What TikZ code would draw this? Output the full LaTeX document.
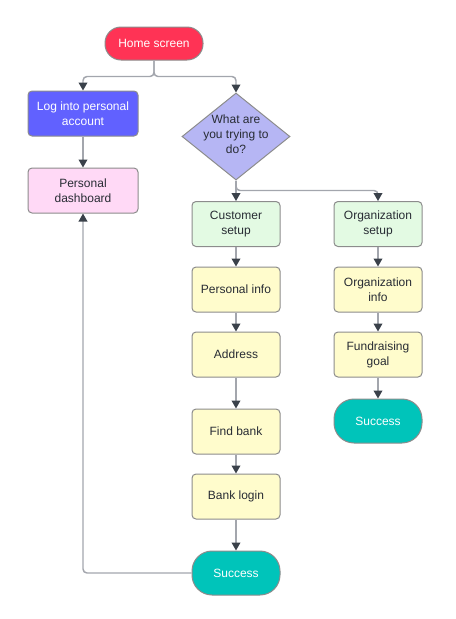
\documentclass[tikz,border=0pt]{standalone}
\usepackage{fontspec}
\setmainfont{Liberation Sans}
\usetikzlibrary{arrows.meta,shapes.geometric}
\definecolor{homec}{HTML}{FF3355}
\definecolor{loginc}{HTML}{6161FF}
\definecolor{dashc}{HTML}{FFD9F6}
\definecolor{decidec}{HTML}{B6B6F4}
\definecolor{setupc}{HTML}{E3FAE3}
\definecolor{stepc}{HTML}{FFFCCC}
\definecolor{succc}{HTML}{00C4BA}
\definecolor{edgec}{HTML}{8C8C8C}
\definecolor{linec}{HTML}{A3A6AD}
\definecolor{tipc}{HTML}{3A414A}
\definecolor{txtc}{HTML}{282C34}
\tikzset{
  box/.style={draw=edgec,line width=0.75pt,rounded corners=3pt,align=center,
    minimum width=66pt,minimum height=33.75pt,inner sep=2pt,text=txtc,
    font=\fontsize{9}{11.25}\selectfont},
  stepbox/.style={box,fill=stepc},
  setupbox/.style={box,fill=setupc},
  term/.style={box,rounded corners=12pt,minimum height=24.75pt,
    minimum width=73.5pt,fill=homec,text=white},
  succ/.style={box,rounded corners=15pt,minimum height=33pt,fill=succc,text=white},
  conn/.style={draw=linec,line width=1.1pt,rounded corners=3pt,
    -{Triangle[length=6pt,width=6.5pt,color=tipc]}}
}
\begin{document}
\begin{tikzpicture}[x=0.75pt,y=-0.75pt]
  \useasboundingbox (0,0) rectangle (455,619);
  % left column
  \node[term] (home) at (154,43.5) {Home screen};
  \node[box,fill=loginc,text=white,minimum width=82.5pt] (login) at (83,113.5)
    {Log into personal\\account};
  \node[box,fill=dashc,minimum width=82.5pt] (dash) at (83,190.5)
    {Personal\\dashboard};
  % decision
  \node[diamond,draw=edgec,line width=0.75pt,fill=decidec,inner sep=0pt,
    minimum width=81pt,minimum height=65.25pt] (decide) at (236,136.5) {};
  \node[align=center,text=txtc,font=\fontsize{9}{11.25}\selectfont]
    (decidetxt) at (236,134) {What are\\you trying to\\do?};
  % customer branch
  \node[setupbox] (csetup) at (236,224) {Customer\\setup};
  \node[stepbox] (pinfo) at (236,289.5) {Personal info};
  \node[stepbox] (addr) at (236,354.5) {Address};
  \node[stepbox] (fbank) at (236,431.5) {Find bank};
  \node[stepbox] (blogin) at (236,496.5) {Bank login};
  \node[succ] (succL) at (236,573) {Success};
  % organization branch
  \node[setupbox] (osetup) at (378,224) {Organization\\setup};
  \node[stepbox] (oinfo) at (378,289.5) {Organization\\info};
  \node[stepbox] (fgoal) at (378,354.5) {Fundraising\\goal};
  \node[succ] (succR) at (378,421) {Success};

  \draw[conn] (home.south) -- ++(0,16) -| (login.north);
  \draw[conn] (home.south) -- ++(0,16) -| (decide.north);
  \draw[conn] (login) -- (dash);
  \draw[conn] (decide.south) -- (csetup.north);
  \draw[conn] (decide.south) -- ++(0,10) -| (osetup.north);
  \foreach \a/\b in {csetup/pinfo,pinfo/addr,addr/fbank,fbank/blogin,
    blogin/succL,osetup/oinfo,oinfo/fgoal,fgoal/succR}
    \draw[conn] (\a) -- (\b);
  \draw[conn] (succL.west) -| (dash.south);
\end{tikzpicture}
\end{document}
